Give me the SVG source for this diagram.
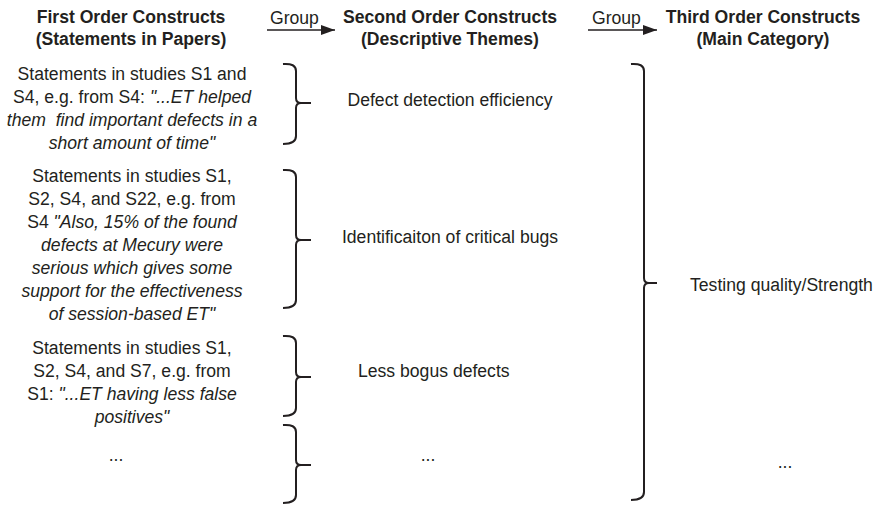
<svg xmlns="http://www.w3.org/2000/svg" width="875" height="506" viewBox="0 0 875 506">
<defs>
<style>
text{font-family:"Liberation Sans",Arial,Helvetica,sans-serif;font-size:17.6px;fill:#231f20}
.h{font-weight:bold}
.c{text-anchor:middle}
.i{font-style:italic}
.br{fill:none;stroke:#231f20;stroke-width:2}
.ar{stroke:#231f20;stroke-width:1.6;fill:none}
</style>
<marker id="ah" viewBox="0 0 14 10" refX="14" refY="5" markerWidth="14" markerHeight="10" markerUnits="userSpaceOnUse" orient="auto">
<path d="M0,0 L14,5 L0,10 Z" fill="#231f20"/>
</marker>
</defs>
<rect width="875" height="506" fill="#fff"/>
<g id="headers">
<text class="h c" x="131" y="23">First Order Constructs</text>
<text class="h c" x="131" y="45">(Statements in Papers)</text>
<text class="h c" x="450" y="23">Second Order Constructs</text>
<text class="h c" x="450" y="45">(Descriptive Themes)</text>
<text class="h c" x="763" y="23">Third Order Constructs</text>
<text class="h c" x="763" y="45">(Main Category)</text>
</g>
<g id="connectors">
<line class="ar" x1="267" y1="30" x2="335" y2="30" marker-end="url(#ah)"/>
<text x="270" y="24">Group</text>
<line class="ar" x1="588" y1="30" x2="657" y2="30" marker-end="url(#ah)"/>
<text x="592" y="24">Group</text>
<path class="br" d="M283,64 Q296,63 296,71 V98 Q296,103 301,103 Q296,103 296,108 V136 Q296,144 283,144 M301,103 H311"/>
<path class="br" d="M283,170 Q296,169 296,177 V235 Q296,240 301,240 Q296,240 296,245 V300 Q296,308 283,308 M301,240 H311"/>
<path class="br" d="M283,336 Q296,335 296,343 V372 Q296,377 301,377 Q296,377 296,382 V408 Q296,416 283,416 M301,377 H311"/>
<path class="br" d="M283,425 Q296,424 296,432 V460 Q296,465 301,465 Q296,465 296,470 V495 Q296,503 283,503 M301,465 H311"/>
<path class="br" d="M631,64 Q644,63 644,71 V278 Q644,283 649,283 Q644,283 644,288 V492 Q644,500 631,500 M649,283 H657"/>
</g>
<g id="first-1">
<text class="c" x="132" y="80">Statements in studies S1 and</text>
<text class="c" x="132" y="103">S4, e.g. from S4: <tspan class="i">"...ET helped</tspan></text>
<text class="c i" x="132" y="126" style="white-space:pre">them  find important defects in a</text>
<text class="c i" x="132" y="149">short amount of time"</text>
</g>
<g id="first-2">
<text class="c" x="132" y="182">Statements in studies S1,</text>
<text class="c" x="132" y="205">S2, S4, and S22, e.g. from</text>
<text class="c" x="132" y="228">S4 <tspan class="i">"Also, 15% of the found</tspan></text>
<text class="c i" x="132" y="251">defects at Mecury were</text>
<text class="c i" x="132" y="274">serious which gives some</text>
<text class="c i" x="132" y="297">support for the effectiveness</text>
<text class="c i" x="132" y="320">of session-based ET"</text>
</g>
<g id="first-3">
<text class="c" x="132" y="354">Statements in studies S1,</text>
<text class="c" x="132" y="377">S2, S4, and S7, e.g. from</text>
<text class="c" x="132" y="400">S1: <tspan class="i">"...ET having less false</tspan></text>
<text class="c i" x="132" y="423">positives"</text>
</g>
<g id="first-4"><text class="c" x="116" y="461">...</text></g>
<g id="second-1"><text class="c" x="450" y="106">Defect detection efficiency</text></g>
<g id="second-2"><text class="c" x="450" y="243">Identificaiton of critical bugs</text></g>
<g id="second-3"><text x="358" y="377">Less bogus defects</text></g>
<g id="second-4"><text class="c" x="428" y="461">...</text></g>
<g id="third-1"><text x="690" y="291">Testing quality/Strength</text></g>
<g id="third-2"><text class="c" x="785" y="468">...</text></g>
</svg>
